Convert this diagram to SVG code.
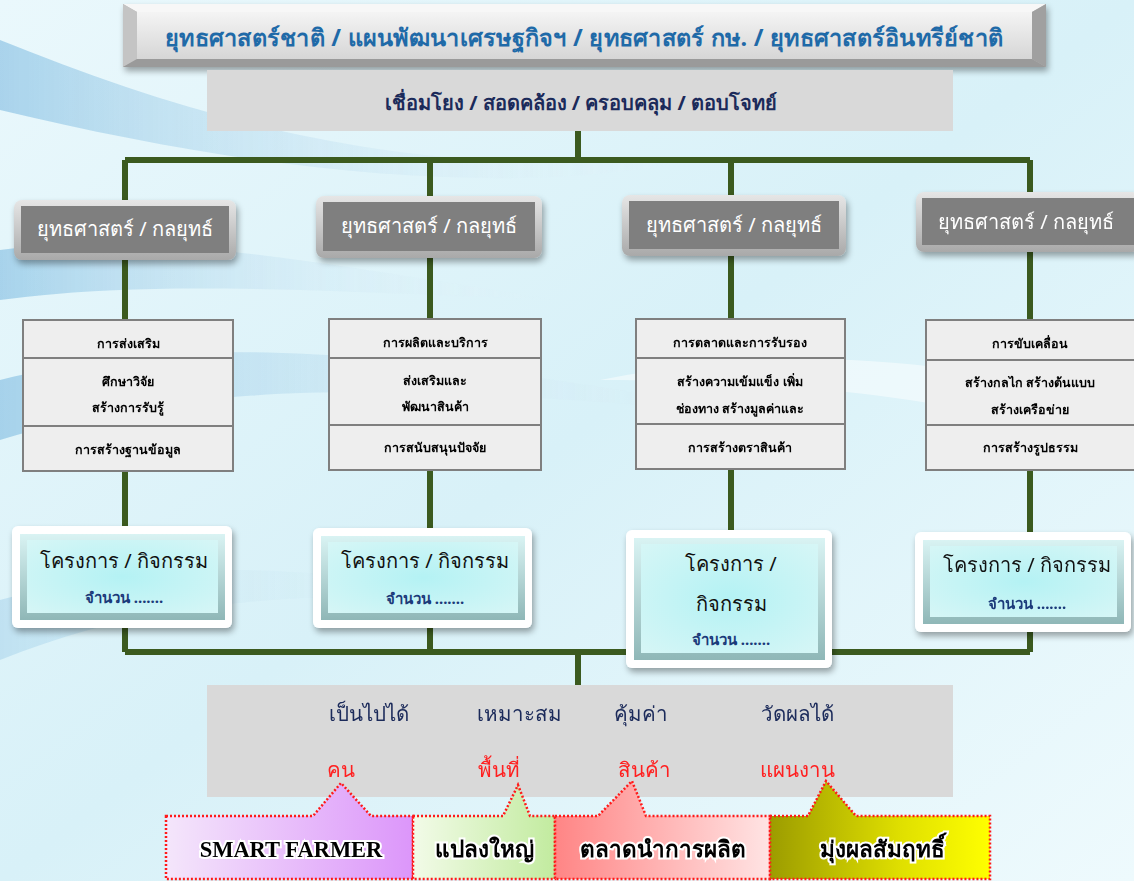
<svg xmlns="http://www.w3.org/2000/svg" width="1134" height="881" viewBox="0 0 1134 881">
<defs>
<linearGradient id="bg" x1="0" y1="0" x2="1" y2="1">
<stop offset="0" stop-color="#eaf8fc"/><stop offset="0.5" stop-color="#d8f1f8"/><stop offset="1" stop-color="#eefafd"/>
</linearGradient>
<linearGradient id="swoosh" x1="0" y1="0" x2="1" y2="0">
<stop offset="0" stop-color="#5aa7d8" stop-opacity="0.55"/><stop offset="1" stop-color="#ffffff" stop-opacity="0"/>
</linearGradient>
<linearGradient id="banner" x1="0" y1="0" x2="0" y2="1">
<stop offset="0" stop-color="#f4f4f4"/><stop offset="1" stop-color="#d6d6d6"/>
</linearGradient>
<linearGradient id="stratOuter" x1="0" y1="0" x2="0" y2="1">
<stop offset="0" stop-color="#e6e6e6"/><stop offset="1" stop-color="#a9a9a9"/>
</linearGradient>
<radialGradient id="cyan" cx="0.5" cy="0.5" r="0.7">
<stop offset="0" stop-color="#b4f2f4"/><stop offset="1" stop-color="#d6f6f6"/>
</radialGradient>
<linearGradient id="cyanEdge" x1="0" y1="0" x2="0" y2="1">
<stop offset="0" stop-color="#d9f3f3"/><stop offset="1" stop-color="#8fb7b7"/>
</linearGradient>
<linearGradient id="gPurple" x1="0" y1="0" x2="1" y2="0"><stop offset="0" stop-color="#f4e6fb"/><stop offset="1" stop-color="#dc96fa"/></linearGradient>
<linearGradient id="gGreen" x1="0" y1="0" x2="1" y2="0"><stop offset="0" stop-color="#f2fbe8"/><stop offset="1" stop-color="#c2eb9f"/></linearGradient>
<linearGradient id="gRed" x1="0" y1="0" x2="1" y2="0"><stop offset="0" stop-color="#ff8585"/><stop offset="1" stop-color="#ffe4e4"/></linearGradient>
<linearGradient id="gYellow" x1="0" y1="0" x2="1" y2="0"><stop offset="0" stop-color="#9c9c00"/><stop offset="0.6" stop-color="#e0e000"/><stop offset="1" stop-color="#ffff00"/></linearGradient>
<filter id="shadow" x="-10%" y="-10%" width="125%" height="135%">
<feDropShadow dx="2" dy="4" stdDeviation="3" flood-color="#000" flood-opacity="0.35"/>
</filter>
</defs>
<style>
.th{font-family:"Noto Sans","DejaVu Sans",sans-serif;}
.title{font-size:23.5px;font-weight:bold;fill:#1f6aa8;}
.sub{font-size:20px;font-weight:bold;fill:#1b2a5a;}
.strat{font-size:20px;fill:#ffffff;}
.cell{fill:#eeeeee;stroke:#7f7f7f;stroke-width:2;}
.ct{font-size:12.5px;font-weight:bold;fill:#000;}
.pj{font-size:20px;fill:#111;}
.num{font-size:15px;font-weight:bold;fill:#1b3a7a;}
.nv{font-size:20.5px;fill:#1b2a5a;}
.rd{font-size:20.5px;fill:#ff2020;}
.call{stroke:#ff1a1a;stroke-width:2.5;stroke-dasharray:2 2;}
.ctx{font-size:22.5px;font-weight:bold;fill:#000;stroke:#ffffff;stroke-width:4;paint-order:stroke;}
.line{stroke:#3b5a1f;stroke-width:6;fill:none;}
</style>
<rect x="0" y="0" width="1134" height="881" fill="url(#bg)"/>
<g opacity="0.8">
<path d="M0 40 C200 120 400 180 700 160 C500 200 250 170 0 110 Z" fill="url(#swoosh)"/>
<path d="M0 250 C150 230 300 260 560 300 C300 290 150 280 0 300 Z" fill="url(#swoosh)"/>
<path d="M0 380 C200 330 400 350 800 420 C400 380 200 380 0 440 Z" fill="url(#swoosh)"/>
<path d="M0 600 C150 560 300 560 500 600 C300 590 150 600 0 660 Z" fill="url(#swoosh)" opacity="0.5"/>
<path d="M600 380 C800 340 1000 360 1134 420 L1134 460 C1000 400 800 380 600 380 Z" fill="#ffffff" opacity="0.6"/>
</g>

<g id="connectors">
<path class="line" d="M578 131 V160 M125 160 H1030 M125 160 V652 M430 160 V652 M731 160 V652 M1030 160 V652 M125 652 H1030 M578 652 V686"/>
</g>

<g id="banner">
<rect x="123" y="4" width="923" height="63" fill="#b8b8b8" filter="url(#shadow)"/>
<polygon points="123,4 1046,4 1032,12 137,12" fill="#f7f7f7"/>
<polygon points="123,4 137,12 137,59 123,67" fill="#c4c4c4"/>
<polygon points="1046,4 1032,12 1032,59 1046,67" fill="#a0a0a0"/>
<polygon points="123,67 137,59 1032,59 1046,67" fill="#9a9a9a"/>
<rect x="137" y="12" width="895" height="47" fill="url(#banner)"/>
<text class="th title" x="584" y="46" text-anchor="middle" textLength="838" lengthAdjust="spacing">ยุทธศาสตร์ชาติ  /  แผนพัฒนาเศรษฐกิจฯ  /  ยุทธศาสตร์ กษ.  /  ยุทธศาสตร์อินทรีย์ชาติ</text>
</g>

<g id="link-box">
<rect x="207" y="70" width="746" height="61" fill="#d9d9d9"/>
<text class="th sub" x="581" y="110" text-anchor="middle">เชื่อมโยง / สอดคล้อง / ครอบคลุม / ตอบโจทย์</text>
</g>

<g id="strategy-1">
<rect x="14" y="200" width="222" height="60" rx="8" fill="url(#stratOuter)" filter="url(#shadow)"/>
<rect x="21" y="206" width="208" height="47" fill="#7f7f7f"/>
<text class="th strat" x="125" y="236" text-anchor="middle">ยุทธศาสตร์ / กลยุทธ์</text>
</g>
<g id="strategy-2">
<rect x="316" y="196" width="226" height="62" rx="8" fill="url(#stratOuter)" filter="url(#shadow)"/>
<rect x="323" y="202" width="212" height="49" fill="#7f7f7f"/>
<text class="th strat" x="429" y="233" text-anchor="middle">ยุทธศาสตร์ / กลยุทธ์</text>
</g>
<g id="strategy-3">
<rect x="622" y="195" width="224" height="61" rx="8" fill="url(#stratOuter)" filter="url(#shadow)"/>
<rect x="629" y="201" width="210" height="48" fill="#7f7f7f"/>
<text class="th strat" x="734" y="232" text-anchor="middle">ยุทธศาสตร์ / กลยุทธ์</text>
</g>
<g id="strategy-4">
<rect x="916" y="192" width="224" height="60" rx="8" fill="url(#stratOuter)" filter="url(#shadow)"/>
<rect x="922" y="198" width="212" height="47" fill="#7f7f7f"/>
<text class="th strat" x="1026" y="229" text-anchor="middle">ยุทธศาสตร์ / กลยุทธ์</text>
</g>

<g id="table-1">
<rect class="cell" x="23" y="320" width="210" height="38"/>
<rect class="cell" x="23" y="358" width="210" height="68"/>
<rect class="cell" x="23" y="426" width="210" height="45"/>
<text class="th ct" x="128" y="348" text-anchor="middle">การส่งเสริม</text>
<text class="th ct" x="128" y="386" text-anchor="middle">ศึกษาวิจัย</text>
<text class="th ct" x="128" y="412" text-anchor="middle">สร้างการรับรู้</text>
<text class="th ct" x="128" y="454" text-anchor="middle">การสร้างฐานข้อมูล</text>
</g>
<g id="table-2">
<rect class="cell" x="329" y="319" width="212" height="39"/>
<rect class="cell" x="329" y="358" width="212" height="67"/>
<rect class="cell" x="329" y="425" width="212" height="45"/>
<text class="th ct" x="435" y="347" text-anchor="middle">การผลิตและบริการ</text>
<text class="th ct" x="435" y="385" text-anchor="middle">ส่งเสริมและ</text>
<text class="th ct" x="435" y="411" text-anchor="middle">พัฒนาสินค้า</text>
<text class="th ct" x="435" y="452" text-anchor="middle">การสนับสนุนปัจจัย</text>
</g>
<g id="table-3">
<rect class="cell" x="636" y="319" width="209" height="39"/>
<rect class="cell" x="636" y="358" width="209" height="66"/>
<rect class="cell" x="636" y="424" width="209" height="45"/>
<text class="th ct" x="740" y="347" text-anchor="middle">การตลาดและการรับรอง</text>
<text class="th ct" x="740" y="386" text-anchor="middle">สร้างความเข้มแข็ง เพิ่ม</text>
<text class="th ct" x="740" y="413" text-anchor="middle">ช่องทาง สร้างมูลค่าและ</text>
<text class="th ct" x="740" y="452" text-anchor="middle">การสร้างตราสินค้า</text>
</g>
<g id="table-4">
<rect class="cell" x="926" y="320" width="210" height="40"/>
<rect class="cell" x="926" y="360" width="210" height="65"/>
<rect class="cell" x="926" y="425" width="210" height="45"/>
<text class="th ct" x="1030" y="348" text-anchor="middle">การขับเคลื่อน</text>
<text class="th ct" x="1030" y="387" text-anchor="middle">สร้างกลไก สร้างต้นแบบ</text>
<text class="th ct" x="1030" y="414" text-anchor="middle">สร้างเครือข่าย</text>
<text class="th ct" x="1030" y="452" text-anchor="middle">การสร้างรูปธรรม</text>
</g>

<g id="project-1">
<rect x="12" y="526" width="220" height="102" rx="6" fill="#ffffff" filter="url(#shadow)"/>
<rect x="20" y="534" width="205" height="86" fill="url(#cyanEdge)"/>
<rect x="27" y="540" width="191" height="73" fill="url(#cyan)"/>
<text class="th pj" x="124" y="568" text-anchor="middle">โครงการ / กิจกรรม</text>
<text class="th num" x="124" y="603" text-anchor="middle">จำนวน .......</text>
</g>
<g id="project-2">
<rect x="313" y="528" width="219" height="100" rx="6" fill="#ffffff" filter="url(#shadow)"/>
<rect x="321" y="536" width="204" height="84" fill="url(#cyanEdge)"/>
<rect x="328" y="542" width="190" height="71" fill="url(#cyan)"/>
<text class="th pj" x="425" y="568" text-anchor="middle">โครงการ / กิจกรรม</text>
<text class="th num" x="425" y="604" text-anchor="middle">จำนวน .......</text>
</g>
<g id="project-3">
<rect x="626" y="530" width="206" height="138" rx="6" fill="#ffffff" filter="url(#shadow)"/>
<rect x="634" y="538" width="191" height="122" fill="url(#cyanEdge)"/>
<rect x="641" y="544" width="177" height="109" fill="url(#cyan)"/>
<text class="th pj" x="731" y="571" text-anchor="middle">โครงการ /</text>
<text class="th pj" x="731" y="611" text-anchor="middle">กิจกรรม</text>
<text class="th num" x="731" y="645" text-anchor="middle">จำนวน .......</text>
</g>
<g id="project-4">
<rect x="915" y="532" width="216" height="100" rx="6" fill="#ffffff" filter="url(#shadow)"/>
<rect x="923" y="540" width="201" height="84" fill="url(#cyanEdge)"/>
<rect x="930" y="546" width="187" height="71" fill="url(#cyan)"/>
<text class="th pj" x="1027" y="572" text-anchor="middle">โครงการ / กิจกรรม</text>
<text class="th num" x="1027" y="609" text-anchor="middle">จำนวน .......</text>
</g>

<g id="criteria-box">
<rect x="207" y="685" width="746" height="112" fill="#d9d9d9"/>
<text class="th nv" x="369" y="721" text-anchor="middle">เป็นไปได้</text>
<text class="th nv" x="519" y="721" text-anchor="middle">เหมาะสม</text>
<text class="th nv" x="641" y="721" text-anchor="middle">คุ้มค่า</text>
<text class="th nv" x="797" y="721" text-anchor="middle">วัดผลได้</text>
<text class="th rd" x="341" y="777" text-anchor="middle">คน</text>
<text class="th rd" x="499" y="777" text-anchor="middle">พื้นที่</text>
<text class="th rd" x="644" y="777" text-anchor="middle">สินค้า</text>
<text class="th rd" x="797" y="777" text-anchor="middle">แผนงาน</text>
</g>

<g id="callout-smart-farmer">
<path class="call" d="M166 816 H313 L341 783 L371 816 H413 V879 H166 Z" fill="url(#gPurple)"/>
<text class="ctx" x="291" y="857" text-anchor="middle" font-family="'Liberation Serif',serif" font-size="24">SMART FARMER</text>
</g>
<g id="callout-plot">
<path class="call" d="M413 816 H503 L518 785 L530 816 H555 V879 H413 Z" fill="url(#gGreen)"/>
<text class="th ctx" x="484" y="857" text-anchor="middle">แปลงใหญ่</text>
</g>
<g id="callout-market">
<path class="call" d="M555 816 H598 L632 781 L646 816 H770 V879 H555 Z" fill="url(#gRed)"/>
<text class="th ctx" x="663" y="857" text-anchor="middle">ตลาดนำการผลิต</text>
</g>
<g id="callout-result">
<path class="call" d="M770 816 H808 L826 781 L856 816 H990 V879 H770 Z" fill="url(#gYellow)"/>
<text class="th ctx" x="882" y="857" text-anchor="middle">มุ่งผลสัมฤทธิ์</text>
</g>
</svg>
